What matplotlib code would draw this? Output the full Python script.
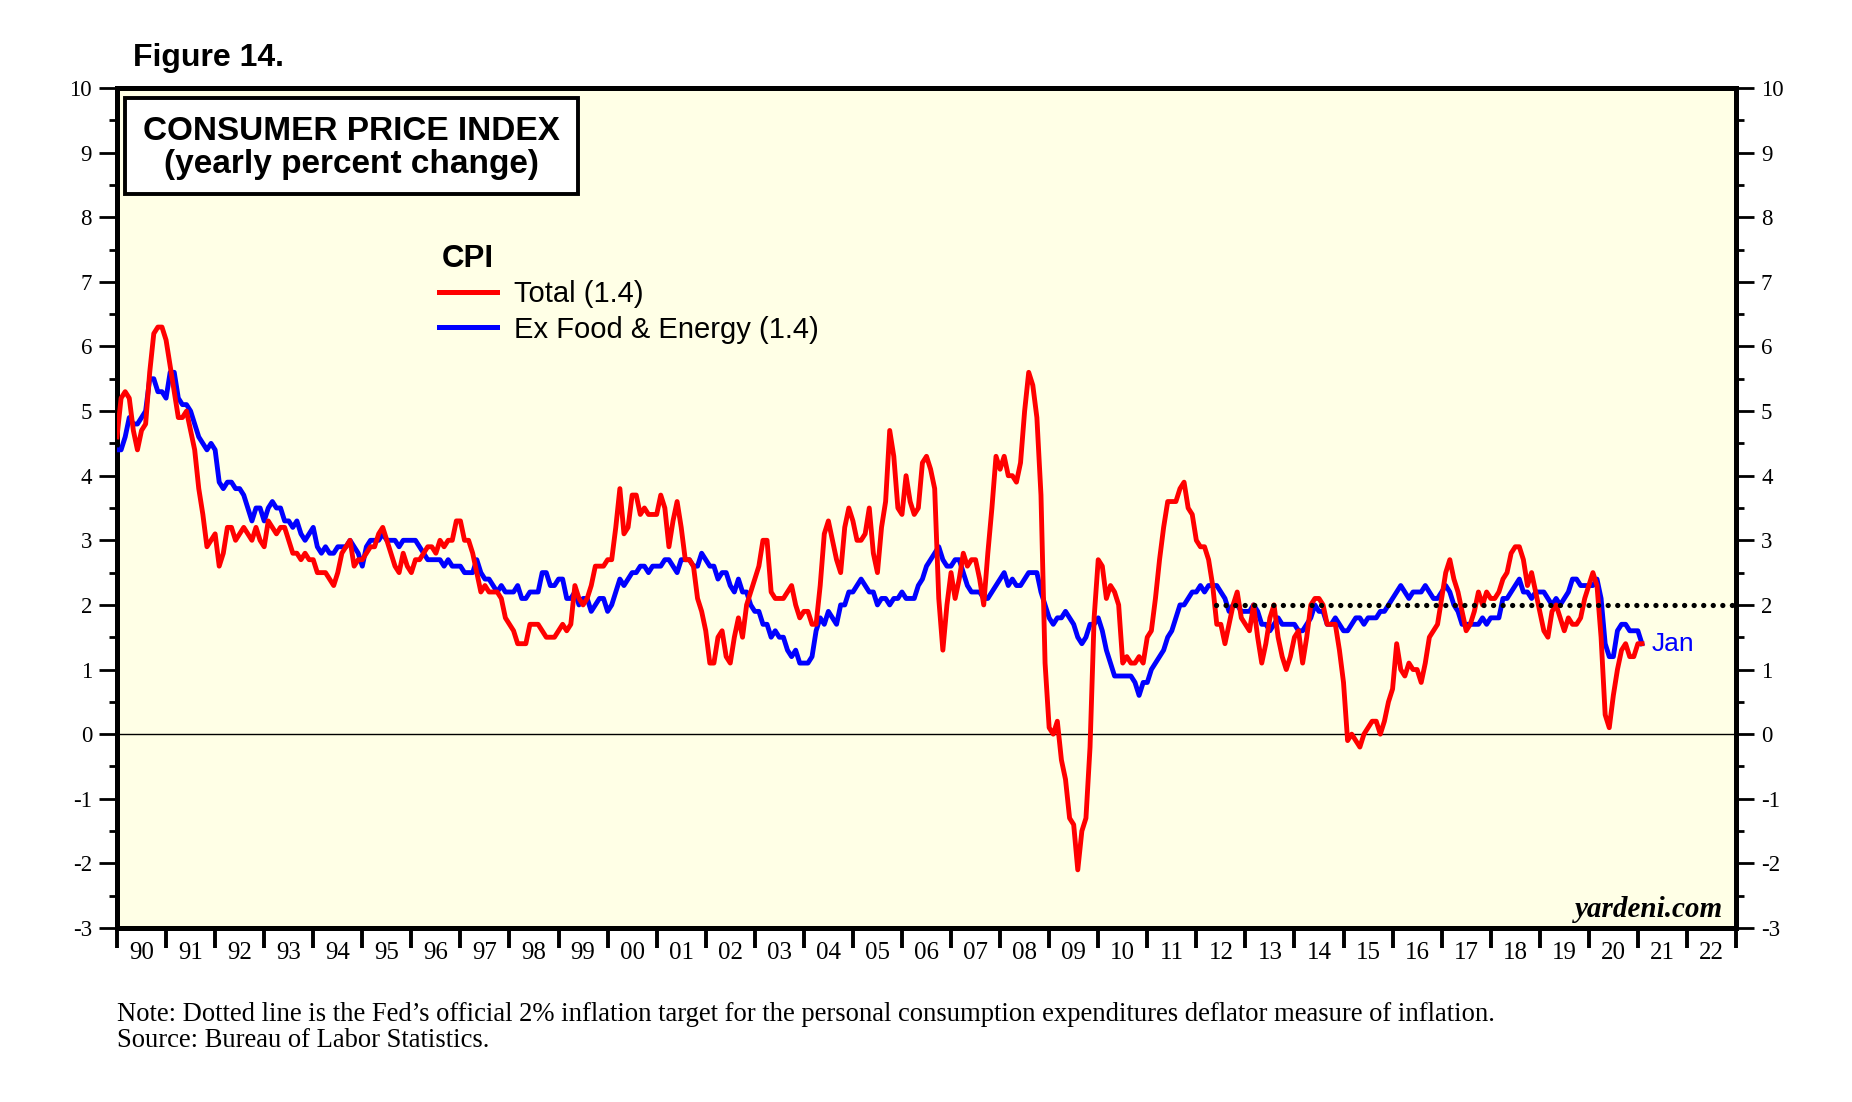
import numpy as np
import pandas as pd
import matplotlib
matplotlib.use("Agg")
import matplotlib.pyplot as plt
from matplotlib.lines import Line2D
from matplotlib.patches import Rectangle

## data: CPI yearly percent change, monthly, Dec 1989 .. Jan 2021
start_month = "1989-12"
cpi_total = [4.6,
    5.2, 5.3, 5.2, 4.7, 4.4, 4.7, 4.8, 5.6, 6.2, 6.3, 6.3, 6.1,   # 1990
    5.7, 5.3, 4.9, 4.9, 5.0, 4.7, 4.4, 3.8, 3.4, 2.9, 3.0, 3.1,   # 1991
    2.6, 2.8, 3.2, 3.2, 3.0, 3.1, 3.2, 3.1, 3.0, 3.2, 3.0, 2.9,   # 1992
    3.3, 3.2, 3.1, 3.2, 3.2, 3.0, 2.8, 2.8, 2.7, 2.8, 2.7, 2.7,   # 1993
    2.5, 2.5, 2.5, 2.4, 2.3, 2.5, 2.8, 2.9, 3.0, 2.6, 2.7, 2.7,   # 1994
    2.8, 2.9, 2.9, 3.1, 3.2, 3.0, 2.8, 2.6, 2.5, 2.8, 2.6, 2.5,   # 1995
    2.7, 2.7, 2.8, 2.9, 2.9, 2.8, 3.0, 2.9, 3.0, 3.0, 3.3, 3.3,   # 1996
    3.0, 3.0, 2.8, 2.5, 2.2, 2.3, 2.2, 2.2, 2.2, 2.1, 1.8, 1.7,   # 1997
    1.6, 1.4, 1.4, 1.4, 1.7, 1.7, 1.7, 1.6, 1.5, 1.5, 1.5, 1.6,   # 1998
    1.7, 1.6, 1.7, 2.3, 2.1, 2.0, 2.1, 2.3, 2.6, 2.6, 2.6, 2.7,   # 1999
    2.7, 3.2, 3.8, 3.1, 3.2, 3.7, 3.7, 3.4, 3.5, 3.4, 3.4, 3.4,   # 2000
    3.7, 3.5, 2.9, 3.3, 3.6, 3.2, 2.7, 2.7, 2.6, 2.1, 1.9, 1.6,   # 2001
    1.1, 1.1, 1.5, 1.6, 1.2, 1.1, 1.5, 1.8, 1.5, 2.0, 2.2, 2.4,   # 2002
    2.6, 3.0, 3.0, 2.2, 2.1, 2.1, 2.1, 2.2, 2.3, 2.0, 1.8, 1.9,   # 2003
    1.9, 1.7, 1.7, 2.3, 3.1, 3.3, 3.0, 2.7, 2.5, 3.2, 3.5, 3.3,   # 2004
    3.0, 3.0, 3.1, 3.5, 2.8, 2.5, 3.2, 3.6, 4.7, 4.3, 3.5, 3.4,   # 2005
    4.0, 3.6, 3.4, 3.5, 4.2, 4.3, 4.1, 3.8, 2.1, 1.3, 2.0, 2.5,   # 2006
    2.1, 2.4, 2.8, 2.6, 2.7, 2.7, 2.4, 2.0, 2.8, 3.5, 4.3, 4.1,   # 2007
    4.3, 4.0, 4.0, 3.9, 4.2, 5.0, 5.6, 5.4, 4.9, 3.7, 1.1, 0.1,   # 2008
    0.0, 0.2, -0.4, -0.7, -1.3, -1.4, -2.1, -1.5, -1.3, -0.2, 1.8, 2.7,  # 2009
    2.6, 2.1, 2.3, 2.2, 2.0, 1.1, 1.2, 1.1, 1.1, 1.2, 1.1, 1.5,   # 2010
    1.6, 2.1, 2.7, 3.2, 3.6, 3.6, 3.6, 3.8, 3.9, 3.5, 3.4, 3.0,   # 2011
    2.9, 2.9, 2.7, 2.3, 1.7, 1.7, 1.4, 1.7, 2.0, 2.2, 1.8, 1.7,   # 2012
    1.6, 2.0, 1.5, 1.1, 1.4, 1.8, 2.0, 1.5, 1.2, 1.0, 1.2, 1.5,   # 2013
    1.6, 1.1, 1.5, 2.0, 2.1, 2.1, 2.0, 1.7, 1.7, 1.7, 1.3, 0.8,   # 2014
    -0.1, 0.0, -0.1, -0.2, 0.0, 0.1, 0.2, 0.2, 0.0, 0.2, 0.5, 0.7,  # 2015
    1.4, 1.0, 0.9, 1.1, 1.0, 1.0, 0.8, 1.1, 1.5, 1.6, 1.7, 2.1,   # 2016
    2.5, 2.7, 2.4, 2.2, 1.9, 1.6, 1.7, 1.9, 2.2, 2.0, 2.2, 2.1,   # 2017
    2.1, 2.2, 2.4, 2.5, 2.8, 2.9, 2.9, 2.7, 2.3, 2.5, 2.2, 1.9,   # 2018
    1.6, 1.5, 1.9, 2.0, 1.8, 1.6, 1.8, 1.7, 1.7, 1.8, 2.1, 2.3,   # 2019
    2.5, 2.3, 1.5, 0.3, 0.1, 0.6, 1.0, 1.3, 1.4, 1.2, 1.2, 1.4,   # 2020
    1.4]                                                           # Jan 2021
cpi_core = [4.4,
    4.4, 4.6, 4.9, 4.8, 4.8, 4.9, 5.0, 5.5, 5.5, 5.3, 5.3, 5.2,   # 1990
    5.6, 5.6, 5.2, 5.1, 5.1, 5.0, 4.8, 4.6, 4.5, 4.4, 4.5, 4.4,   # 1991
    3.9, 3.8, 3.9, 3.9, 3.8, 3.8, 3.7, 3.5, 3.3, 3.5, 3.5, 3.3,   # 1992
    3.5, 3.6, 3.5, 3.5, 3.3, 3.3, 3.2, 3.3, 3.1, 3.0, 3.1, 3.2,   # 1993
    2.9, 2.8, 2.9, 2.8, 2.8, 2.9, 2.9, 2.9, 3.0, 2.9, 2.8, 2.6,   # 1994
    2.9, 3.0, 3.0, 3.0, 3.1, 3.0, 3.0, 3.0, 2.9, 3.0, 3.0, 3.0,   # 1995
    3.0, 2.9, 2.8, 2.7, 2.7, 2.7, 2.7, 2.6, 2.7, 2.6, 2.6, 2.6,   # 1996
    2.5, 2.5, 2.5, 2.7, 2.5, 2.4, 2.4, 2.3, 2.2, 2.3, 2.2, 2.2,   # 1997
    2.2, 2.3, 2.1, 2.1, 2.2, 2.2, 2.2, 2.5, 2.5, 2.3, 2.3, 2.4,   # 1998
    2.4, 2.1, 2.1, 2.2, 2.0, 2.1, 2.1, 1.9, 2.0, 2.1, 2.1, 1.9,   # 1999
    2.0, 2.2, 2.4, 2.3, 2.4, 2.5, 2.5, 2.6, 2.6, 2.5, 2.6, 2.6,   # 2000
    2.6, 2.7, 2.7, 2.6, 2.5, 2.7, 2.7, 2.7, 2.6, 2.6, 2.8, 2.7,   # 2001
    2.6, 2.6, 2.4, 2.5, 2.5, 2.3, 2.2, 2.4, 2.2, 2.2, 2.0, 1.9,   # 2002
    1.9, 1.7, 1.7, 1.5, 1.6, 1.5, 1.5, 1.3, 1.2, 1.3, 1.1, 1.1,   # 2003
    1.1, 1.2, 1.6, 1.8, 1.7, 1.9, 1.8, 1.7, 2.0, 2.0, 2.2, 2.2,   # 2004
    2.3, 2.4, 2.3, 2.2, 2.2, 2.0, 2.1, 2.1, 2.0, 2.1, 2.1, 2.2,   # 2005
    2.1, 2.1, 2.1, 2.3, 2.4, 2.6, 2.7, 2.8, 2.9, 2.7, 2.6, 2.6,   # 2006
    2.7, 2.7, 2.5, 2.3, 2.2, 2.2, 2.2, 2.1, 2.1, 2.2, 2.3, 2.4,   # 2007
    2.5, 2.3, 2.4, 2.3, 2.3, 2.4, 2.5, 2.5, 2.5, 2.2, 2.0, 1.8,   # 2008
    1.7, 1.8, 1.8, 1.9, 1.8, 1.7, 1.5, 1.4, 1.5, 1.7, 1.7, 1.8,   # 2009
    1.6, 1.3, 1.1, 0.9, 0.9, 0.9, 0.9, 0.9, 0.8, 0.6, 0.8, 0.8,   # 2010
    1.0, 1.1, 1.2, 1.3, 1.5, 1.6, 1.8, 2.0, 2.0, 2.1, 2.2, 2.2,   # 2011
    2.3, 2.2, 2.3, 2.3, 2.3, 2.2, 2.1, 1.9, 2.0, 2.0, 1.9, 1.9,   # 2012
    1.9, 2.0, 1.9, 1.7, 1.7, 1.6, 1.7, 1.8, 1.7, 1.7, 1.7, 1.7,   # 2013
    1.6, 1.6, 1.7, 1.8, 2.0, 1.9, 1.9, 1.7, 1.7, 1.8, 1.7, 1.6,   # 2014
    1.6, 1.7, 1.8, 1.8, 1.7, 1.8, 1.8, 1.8, 1.9, 1.9, 2.0, 2.1,   # 2015
    2.2, 2.3, 2.2, 2.1, 2.2, 2.2, 2.2, 2.3, 2.2, 2.1, 2.1, 2.2,   # 2016
    2.3, 2.2, 2.0, 1.9, 1.7, 1.7, 1.7, 1.7, 1.7, 1.8, 1.7, 1.8,   # 2017
    1.8, 1.8, 2.1, 2.1, 2.2, 2.3, 2.4, 2.2, 2.2, 2.1, 2.2, 2.2,   # 2018
    2.2, 2.1, 2.0, 2.1, 2.0, 2.1, 2.2, 2.4, 2.4, 2.3, 2.3, 2.3,   # 2019
    2.3, 2.4, 2.1, 1.4, 1.2, 1.2, 1.6, 1.7, 1.7, 1.6, 1.6, 1.6,   # 2020
    1.4]                                                           # Jan 2021
fed_target = 2.0
target_start = 2012.4
years = list(range(1990, 2024))
year_labels = [f"{y % 100:02d}" for y in years[:-1]]
last_label = "Jan"
legend_labels = ["Total (1.4)", "Ex Food & Energy (1.4)"]

## layout helpers (pixels of the 1852x1102 output)
W_PX, H_PX = 1852, 1102
def fx(px):
    return px / W_PX
def fy(py):
    return 1 - py / H_PX

SANS = "Liberation Sans"
SERIF = "Liberation Serif"
plt.rcParams['font.family'] = [SERIF, 'DejaVu Serif']
plt.rcParams['axes.unicode_minus'] = False

dates = pd.date_range(start_month, periods=len(cpi_total), freq="MS")
x = dates.year + dates.month / 12.0

fig = plt.figure(figsize=(W_PX / 100, H_PX / 100), dpi=100)
ax_l, ax_r, ax_t, ax_b = 117, 1736, 88, 928
ax = fig.add_axes([fx(ax_l), fy(ax_b), fx(ax_r - ax_l), (ax_b - ax_t) / H_PX])
ax.set_facecolor('#ffffe6')

ax.plot(x, cpi_core, color='#0000ff', lw=3.5, zorder=3)
ax.plot(x, cpi_total, color='#ff0000', lw=3.5, zorder=4)
ax.axhline(0, color='black', lw=1.0, zorder=2)
ax.plot([target_start, years[-1]], [fed_target, fed_target], color='black',
        lw=3.8, linestyle=(0, (0.01, 1.8)), dash_capstyle='round', zorder=5)

ax.annotate(last_label, xy=(x[-1], cpi_core[-1]), xytext=(7, 0),
            textcoords='offset points', va='center', ha='left',
            color='#0000ff', fontsize=19, family=SANS)

ax.set_xlim(years[0], years[-1])
ax.set_ylim(-3, 10)
for sp in ax.spines.values():
    sp.set_linewidth(3.6)

ax.set_xticks(years)
ax.set_xticks([y + 0.5 for y in years[:-1]], labels=year_labels, minor=True)
ax.tick_params(axis='x', which='major', direction='out', length=14.5, width=2.8,
               labelbottom=False)
ax.tick_params(axis='x', which='minor', length=0, labelsize=18, pad=10)

ax.set_yticks(range(-3, 11))
ax.set_yticks(np.arange(-3, 10.01, 0.5), minor=True)
ax.tick_params(axis='y', which='both', direction='out', left=True, right=True,
               labelleft=True, labelright=True)
ax.tick_params(axis='y', which='major', length=13, width=2, labelsize=16.5, pad=5)
ax.tick_params(axis='y', which='minor', length=6, width=2)

## title box
box = Rectangle((fx(125), fy(194)), fx(578 - 125), (194 - 98) / H_PX,
                transform=fig.transFigure, facecolor='white', edgecolor='black',
                lw=2.8, zorder=10)
fig.add_artist(box)
fig.text(fx(351), fy(140), "CONSUMER PRICE INDEX", ha='center', va='baseline',
         fontsize=24, fontweight='bold', family=SANS, zorder=11)
fig.text(fx(351), fy(173), "(yearly percent change)", ha='center', va='baseline',
         fontsize=24, fontweight='bold', family=SANS, zorder=11)
fig.text(fx(133), fy(66), "Figure 14.", ha='left', va='baseline',
         fontsize=23, fontweight='bold', family=SANS)

## legend
fig.text(fx(442), fy(267), "CPI", ha='left', va='baseline', fontsize=22.5,
         fontweight='bold', family=SANS)
for label, color, ly, tb in [(legend_labels[0], '#ff0000', 292, 302),
                             (legend_labels[1], '#0000ff', 327, 338)]:
    fig.add_artist(Line2D([fx(439), fx(497)], [fy(ly), fy(ly)], color=color,
                          lw=3.6, transform=fig.transFigure))
    fig.text(fx(514), fy(tb), label, ha='left', va='baseline', fontsize=21,
             family=SANS)

fig.text(fx(1723), fy(917), "yardeni.com", ha='right', va='baseline',
         fontsize=21, fontweight='bold', fontstyle='italic', family=SERIF)

fig.text(fx(117), fy(1021), "Note: Dotted line is the Fed\u2019s official 2% inflation target "
         "for the personal consumption expenditures deflator measure of inflation.",
         ha='left', va='baseline', fontsize=19.2, family=SERIF)
fig.text(fx(117), fy(1047), "Source: Bureau of Labor Statistics.",
         ha='left', va='baseline', fontsize=19.2, family=SERIF)

fig.savefig("out.png", dpi=100)
